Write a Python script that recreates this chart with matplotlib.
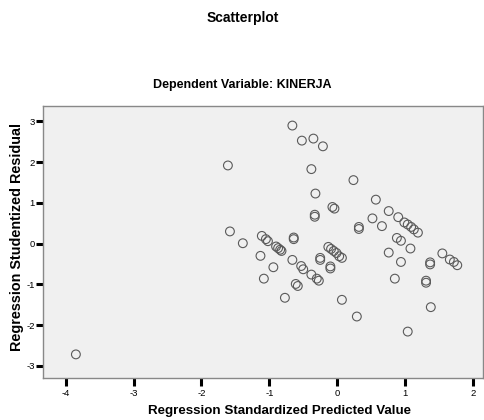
import matplotlib
matplotlib.use("Agg")
import matplotlib.pyplot as plt

# Regression Standardized Predicted Value
pred = [-3.85, -1.61, -1.58, -1.39, -1.11, -1.05, -1.02, -0.90, -0.87, -0.84,
        -0.82, -0.64, -0.64, -1.13, -0.94, -1.08, -0.77, -0.66, -0.53, -0.50,
        -0.38, -0.30, -0.27, -0.61, -0.58, -0.25, -0.25, -0.10, -0.10, -0.13,
        -0.09, -0.05, -0.01, 0.03, 0.07, 0.07, 0.29, -0.66, -0.52, -0.35,
        -0.21, -0.38, -0.32, -0.07, -0.04, -0.33, -0.33, 0.24, 0.57, 0.76,
        0.52, 0.66, 0.32, 0.32, 0.90, 0.99, 1.04, 1.09, 1.13, 1.19,
        0.88, 0.94, 1.08, 0.76, 0.94, 0.85, 1.37, 1.37, 1.31, 1.31,
        1.38, 1.04, 1.55, 1.66, 1.72, 1.77]
# Regression Studentized Residual
resid = [-2.72, 1.92, 0.30, 0.01, 0.19, 0.11, 0.06, -0.07, -0.11, -0.15,
         -0.18, 0.11, 0.15, -0.30, -0.58, -0.86, -1.33, -0.40, -0.55, -0.63,
         -0.76, -0.86, -0.91, -0.99, -1.04, -0.40, -0.35, -0.61, -0.56, -0.08,
         -0.13, -0.18, -0.23, -0.31, -0.35, -1.38, -1.79, 2.90, 2.53, 2.58,
         2.39, 1.83, 1.23, 0.90, 0.86, 0.71, 0.66, 1.56, 1.08, 0.80,
         0.62, 0.43, 0.36, 0.41, 0.65, 0.52, 0.47, 0.41, 0.35, 0.27,
         0.14, 0.07, -0.12, -0.22, -0.45, -0.86, -0.51, -0.46, -0.96, -0.91,
         -1.56, -2.16, -0.24, -0.39, -0.45, -0.53]

xticks = [-4, -3, -2, -1, 0, 1, 2]
yticks = [-3, -2, -1, 0, 1, 2, 3]

plt.rcParams['font.family'] = ['Liberation Sans', 'DejaVu Sans']

fig = plt.figure(figsize=(4.85, 4.20), dpi=100)
ax = fig.add_axes([0.0893, 0.100, 0.9067, 0.6476])
ax.set_facecolor('#f0f0f0')

ax.scatter(pred, resid, s=40, facecolors='none', edgecolors='#5a5a5a',
           linewidths=0.8, zorder=3)

ax.set_xlim(-4.33, 2.15)
ax.set_ylim(-3.30, 3.38)
ax.set_xticks(xticks)
ax.set_yticks(yticks)
ax.set_xticklabels([str(t) for t in xticks], fontsize=6.8)
ax.set_yticklabels([str(t) for t in yticks], fontsize=6.8)
ax.tick_params(axis='x', length=6, width=2.2, color='black', pad=2)
ax.tick_params(axis='y', length=5, width=2.2, color='black', pad=1)

for side in ['top', 'right', 'left', 'bottom']:
    ax.spines[side].set_color('#888888')
    ax.spines[side].set_linewidth(1.0)

ax.set_xlabel('Regression Standardized Predicted Value', fontsize=9.6,
              fontweight='bold')
ax.xaxis.set_label_coords(0.538, -0.100)
ax.set_ylabel('Regression Studentized Residual', fontsize=10.4,
              fontweight='bold')
ax.yaxis.set_label_coords(-0.043, 0.518)

fig.text(0.5, 0.957, 'Scatterplot', ha='center', va='center',
         fontsize=10, fontweight='bold')
fig.text(0.5, 0.798, 'Dependent Variable: KINERJA', ha='center', va='center',
         fontsize=9, fontweight='bold')

fig.savefig('out.png', dpi=100, facecolor='white')
